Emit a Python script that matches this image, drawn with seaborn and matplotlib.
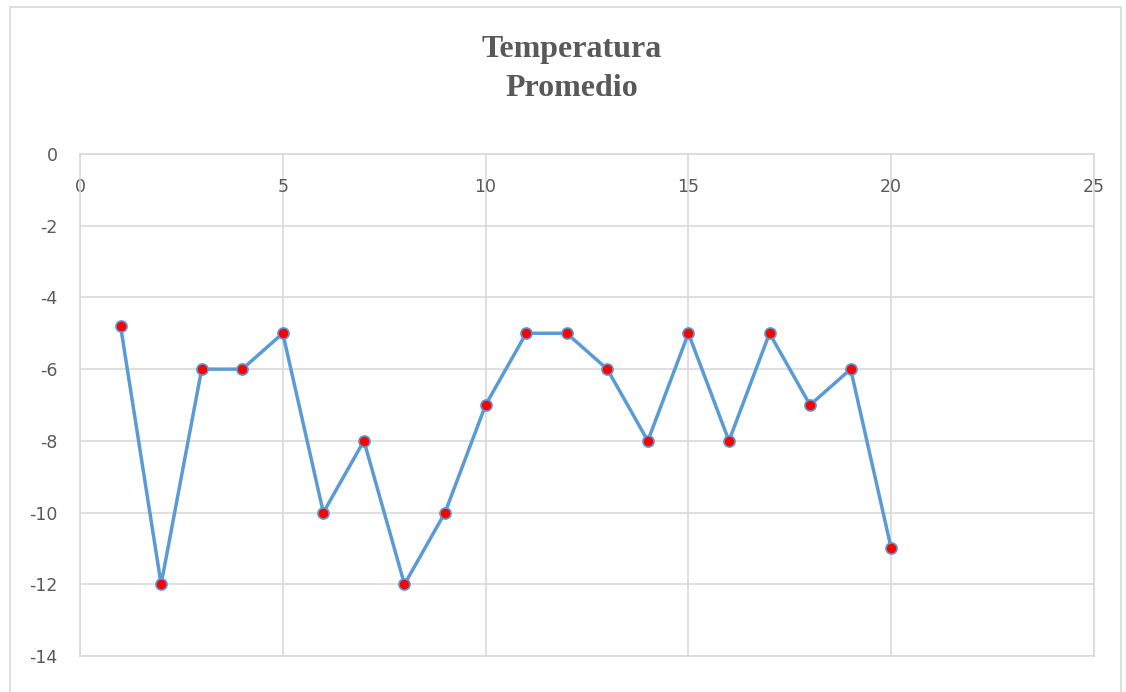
import matplotlib
matplotlib.use("Agg")
import matplotlib.pyplot as plt
import seaborn as sns
import pandas as pd
from matplotlib.patches import Rectangle

x_values = list(range(1, 21))
temperatures = [-4.8, -12, -6, -6, -5, -10, -8, -12, -10, -7,
                -5, -5, -6, -8, -5, -8, -5, -7, -6, -11]
x_ticks = [0, 5, 10, 15, 20, 25]
y_ticks = [0, -2, -4, -6, -8, -10, -12, -14]
title = "Temperatura\nPromedio"

df = pd.DataFrame({"x": x_values, "y": temperatures})

sns.set_style("white")
plt.rcParams['font.family'] = ['DejaVu Sans']
plt.rcParams['axes.unicode_minus'] = False

fig = plt.figure(figsize=(11.26, 6.92), dpi=100)
ax = fig.add_axes([80/1126, 1-656/692, (1094-80)/1126, (656-154)/692])

grid_c = "#D9D9D9"
text_c = "#595959"

sns.lineplot(data=df, x="x", y="y", ax=ax, color="#5B9BD5", linewidth=2.5,
             marker="o", markersize=8, markerfacecolor="#FF0000",
             markeredgecolor="#5B9BD5", markeredgewidth=1.2, zorder=3)

ax.set_xlim(0, 25)
ax.set_ylim(-14, 0)
ax.set_xticks(x_ticks)
ax.set_yticks(y_ticks)
ax.set_yticklabels([str(v) for v in y_ticks])
ax.grid(True, color=grid_c, linewidth=1.2)
ax.set_axisbelow(True)
for s in ax.spines.values():
    s.set_color(grid_c)
    s.set_linewidth(1.2)
ax.set_xlabel("")
ax.set_ylabel("")
ax.tick_params(axis='x', top=True, labeltop=True, bottom=False, labelbottom=False,
               length=0, pad=-30, labelsize=12.5, labelcolor=text_c)
ax.tick_params(axis='y', length=0, pad=16, labelsize=12.5, labelcolor=text_c)

fig.text(572/1126, 1-69/692, title, ha="center", va="center", fontsize=23,
         fontweight="bold", color=text_c, family="Liberation Serif",
         linespacing=1.42)

fig.patches.append(Rectangle((10/1126, -0.1), (1121-10)/1126, 1.1 - 7/692,
                             transform=fig.transFigure, fill=False,
                             edgecolor="#D9D9D9", linewidth=1.2))

fig.savefig("out.png", dpi=100)
